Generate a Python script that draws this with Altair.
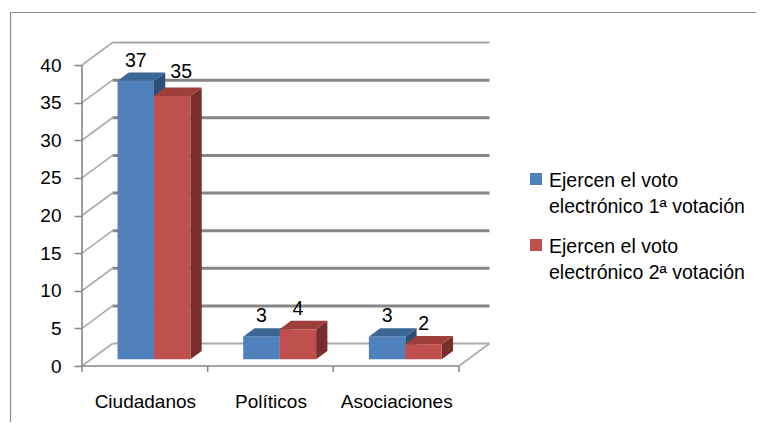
import json
import altair as alt
import pandas as pd

# ---------------- data ----------------
categories = ["Ciudadanos", "Políticos", "Asociaciones"]
series_names = ["Ejercen el voto electrónico 1ª votación",
                "Ejercen el voto electrónico 2ª votación"]
legend_lines = ["Ejercen el voto\nelectrónico 1ª votación",
                "Ejercen el voto\nelectrónico 2ª votación"]
votes_first = [37, 3, 3]
votes_second = [35, 4, 2]
y_ticks = [0, 5, 10, 15, 20, 25, 30, 35, 40]

# ---------------- styles ----------------
front_colors = ["#4F81BD", "#C0504D"]
top_colors = ["#3C6696", "#9E3F3C"]
side_colors = ["#2D5078", "#7A2E2C"]
FONT = "Liberation Sans"
FS = 19
FS_LABEL = 19.5
FS_LEGEND = 19.5

W, H = 746, 410          # view (plot) size
AX_X, AX_Y = 72, 354     # front origin inside the view, px
PX_CAT = 125.67          # px per category
PX_VAL = 7.525           # px per unit
DEPTH_PX_X, DEPTH_PX_Y = 30.5, 22.5

XMIN = -AX_X / PX_CAT
XMAX = (W - AX_X) / PX_CAT
YMIN = -(H - AX_Y) / PX_VAL
YMAX = AX_Y / PX_VAL
DX = DEPTH_PX_X / PX_CAT
DY = DEPTH_PX_Y / PX_VAL
D0, BD, BW = 0.3, 0.37, 0.29
NCAT = len(categories)

XS = alt.Scale(domain=[XMIN, XMAX], nice=False, zero=False)
YS = alt.Scale(domain=[YMIN, YMAX], nice=False, zero=False)

XA = alt.Axis(values=[i + 0.5 for i in range(NCAT)],
              labelExpr=json.dumps(categories, ensure_ascii=False) + "[floor(datum.value)]",
              ticks=False, domain=False, grid=False, offset=-(H - AX_Y),
              labelPadding=26, labelFont=FONT, labelFontSize=FS, labelColor="#000000",
              labelAngle=0, title=None)
YA = alt.Axis(values=y_ticks, domain=False, grid=False, offset=-AX_X,
              tickSize=8, tickColor="#868686", tickWidth=1.5, labelPadding=13,
              labelFont=FONT, labelFontSize=FS, labelColor="#000000", title=None)


def X(f):
    return alt.X(f, type="quantitative", scale=XS, axis=XA)


def Y(f):
    return alt.Y(f, type="quantitative", scale=YS, axis=YA, stack=None)


# ---------------- tables ----------------
rows = []
for i, c in enumerate(categories):
    for s, vals in enumerate([votes_first, votes_second]):
        rows.append(dict(cat=c, ci=i, si=s, series=series_names[s], value=vals[i]))
bars = pd.DataFrame(rows)
ticks_df = pd.DataFrame({"t": y_ticks})
bounds_df = pd.DataFrame({"b": list(range(NCAT + 1))})
one = pd.DataFrame({"k": [0]})

layers = []

# border (left and top edges of the chart frame)
layers.append(alt.Chart(one).mark_rule(color="#8c8c8c", strokeWidth=1.2).encode(
    x=alt.value(0.5), y=alt.value(0), y2=alt.value(H)))
layers.append(alt.Chart(one).mark_rule(color="#8c8c8c", strokeWidth=1.2).encode(
    x=alt.value(0), x2=alt.value(W), y=alt.value(0.5)))

# back wall gridlines
layers.append(alt.Chart(ticks_df).transform_calculate(
    gx1=f"{DX}", gx2=f"{NCAT}+{DX}", gy=f"datum.t+{DY}",
    edge="datum.t == 0 || datum.t == 40 ? 1 : 0"
).mark_rule().encode(
    x=X("gx1"), x2="gx2:Q", y=Y("gy"),
    color=alt.condition("datum.edge == 1", alt.value("#a8a8a8"), alt.value("#868686")),
    strokeWidth=alt.condition("datum.edge == 1", alt.value(2), alt.value(3)),
))

# left side wall diagonals
layers.append(alt.Chart(ticks_df).transform_calculate(
    lx1="0", lx2=f"{DX}", ly1="datum.t", ly2=f"datum.t+{DY}"
).mark_rule(color="#ababab", strokeWidth=1.6).encode(
    x=X("lx1"), x2="lx2:Q", y=Y("ly1"), y2="ly2:Q"))

# right floor edge
layers.append(alt.Chart(one).transform_calculate(
    fx1=f"{NCAT}", fx2=f"{NCAT}+{DX}", fy1="0", fy2=f"{DY}"
).mark_rule(color="#ababab", strokeWidth=1.6).encode(
    x=X("fx1"), x2="fx2:Q", y=Y("fy1"), y2="fy2:Q"))

# front floor line and front vertical axis line
layers.append(alt.Chart(one).transform_calculate(
    a="0", b=f"{NCAT}", z="0"
).mark_rule(color="#868686", strokeWidth=1.6).encode(
    x=X("a"), x2="b:Q", y=Y("z")))
layers.append(alt.Chart(one).transform_calculate(
    a="0", z="0", top=f"{max(y_ticks)}"
).mark_rule(color="#868686", strokeWidth=1.6).encode(
    x=X("a"), y=Y("z"), y2="top:Q"))

# category boundary ticks
layers.append(alt.Chart(bounds_df).transform_calculate(
    z="0", z2=f"-6/{PX_VAL}"
).mark_rule(color="#868686", strokeWidth=1.5).encode(
    x=X("b"), y=Y("z"), y2="z2:Q"))

# bars (3D)
geo = dict(
    xl=f"datum.ci + 0.5 + {D0}*{DX} - {BW} + datum.si*{BW}",
    yb=f"{D0}*{DY}",
)
for s in range(2):
    base = alt.Chart(bars).transform_filter(f"datum.si == {s}").transform_calculate(
        **geo).transform_calculate(
        xr=f"datum.xl + {BW}", yt=f"datum.value + datum.yb")
    flat = base.transform_calculate(pt="[0, 1]").transform_flatten(["pt"])
    side = flat.transform_calculate(
        sx=f"datum.xr + datum.pt*{BD}*{DX}",
        sy1=f"datum.yb + datum.pt*{BD}*{DY}",
        sy2=f"datum.yt + datum.pt*{BD}*{DY}",
    ).mark_area(orient="vertical", color=side_colors[s]).encode(
        x=X("sx"), y=Y("sy1"), y2="sy2:Q", detail="cat:N")
    top = flat.transform_calculate(
        tx1=f"datum.xl + datum.pt*{BD}*{DX}",
        tx2=f"datum.xr + datum.pt*{BD}*{DX}",
        ty=f"datum.yt + datum.pt*{BD}*{DY}",
    ).mark_area(orient="horizontal", color=top_colors[s]).encode(
        y=Y("ty"), x=alt.X("tx1:Q", scale=XS, axis=XA, stack=None), x2="tx2:Q",
        detail="cat:N")
    front = base.mark_rect(color=front_colors[s]).encode(
        x=X("xl"), x2="xr:Q", y=Y("yb"), y2="yt:Q")
    layers += [side, top, front]

# data labels (a label sitting just below its taller neighbour is nudged aside)
layers.append(alt.Chart(bars).transform_joinaggregate(
    maxv="max(value)", groupby=["cat"]
).transform_calculate(**geo).transform_calculate(
    bump=f"datum.si == 1 && datum.maxv - datum.value >= 2 ? 1 : 0"
).transform_calculate(
    lx=f"datum.xl + {BW}/2 + datum.bump*9/{PX_CAT}",
    ly=f"datum.value + datum.yb + {BD}*{DY} + datum.bump*4/{PX_VAL}"
).mark_text(font=FONT, fontSize=FS_LABEL, color="#000000", baseline="middle",
            align="center", dy=-12).encode(
    x=X("lx"), y=Y("ly"), text="value:Q"))

# legend
for s in range(2):
    ytop = 161 + s * 66
    layers.append(alt.Chart(one).mark_rect(color=front_colors[s]).encode(
        x=alt.value(520), x2=alt.value(532), y=alt.value(ytop), y2=alt.value(ytop + 12)))
    layers.append(alt.Chart(pd.DataFrame({"label": [legend_lines[s]]})).mark_text(
        font=FONT, fontSize=FS_LEGEND, color="#000000", align="left", baseline="alphabetic",
        lineBreak="\n", lineHeight=26).encode(
        x=alt.value(539), y=alt.value(ytop + 14), text="label:N"))

chart = alt.layer(*layers).properties(
    width=W, height=H,
    autosize=alt.AutoSizeParams(type="none"),
    padding={"left": 2, "top": 4, "right": 0, "bottom": 0},
).configure_view(stroke=None).configure(background="white")

chart.save("out.html", embed_options={"renderer": "svg", "actions": False})
